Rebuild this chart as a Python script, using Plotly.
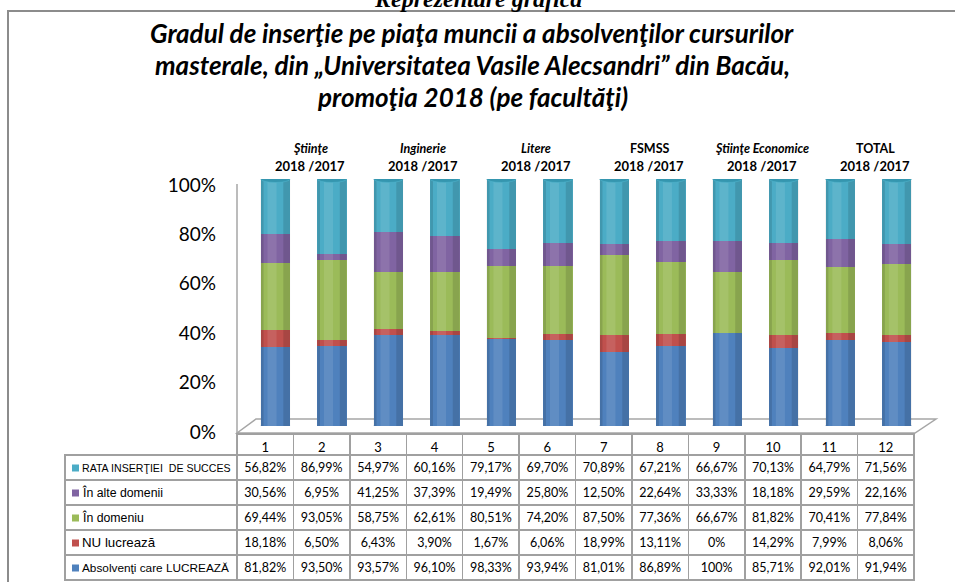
import plotly.graph_objects as go

W, H = 955, 582

categories = ["1", "2", "3", "4", "5", "6", "7", "8", "9", "10", "11", "12"]
faculties = ["<i>Ştiinţe</i>", "<i>Inginerie</i>", "<i>Litere</i>", "FSMSS", "<i>Ştiinţe Economice</i>", "TOTAL"]
period_label = "2018 /2017"

series_names = ["Absolvenţi care LUCREAZĂ", "NU lucrează", "În domeniu", "În alte domenii", "RATA INSERŢIEI  DE SUCCES"]
series_colors = ["#4F81BD", "#C0504D", "#9BBB59", "#8064A2", "#4BACC6"]

absolventi_lucreaza = [81.82, 93.50, 93.57, 96.10, 98.33, 93.94, 81.01, 86.89, 100, 85.71, 92.01, 91.94]
nu_lucreaza = [18.18, 6.50, 6.43, 3.90, 1.67, 6.06, 18.99, 13.11, 0, 14.29, 7.99, 8.06]
in_domeniu = [69.44, 93.05, 58.75, 62.61, 80.51, 74.20, 87.50, 77.36, 66.67, 81.82, 70.41, 77.84]
in_alte_domenii = [30.56, 6.95, 41.25, 37.39, 19.49, 25.80, 12.50, 22.64, 33.33, 18.18, 29.59, 22.16]
rata_insertiei = [56.82, 86.99, 54.97, 60.16, 79.17, 69.70, 70.89, 67.21, 66.67, 70.13, 64.79, 71.56]

series_values = [absolventi_lucreaza, nu_lucreaza, in_domeniu, in_alte_domenii, rata_insertiei]

y_ticks = [0, 20, 40, 60, 80, 100]


def px(x):
    return x / W


def py(y):
    return 1 - y / H


def fmt(v):
    if float(v).is_integer():
        return f"{int(v)}%"
    return f"{v:.2f}".replace(".", ",") + "%"


fig = go.Figure()

for name, vals, col in zip(series_names, series_values, series_colors):
    fig.add_trace(go.Bar(
        x=categories, y=vals, name=name,
        marker=dict(color=col, line=dict(width=0)),
        showlegend=False, hoverinfo="name+y",
    ))

# Data table (top series first, like the reference)
row_order = list(range(len(series_names)))[::-1]
value_cols = [[fmt(series_values[i][c]) for i in row_order] for c in range(len(categories))]
label_sizes = [10.6, 12.3, 12.3, 13.3, 11.8]

TABLE_TOP, HEADER_H, ROW_H, TABLE_L = 434, 21, 25, 65

grid = "#A0A0A0"
clear = "rgba(0,0,0,0)"
fig.add_trace(go.Table(
    domain=dict(x=[px(TABLE_L), px(914)], y=[0, py(TABLE_TOP)]),
    columnwidth=[172] + [56.4] * len(categories),
    header=dict(
        values=[""] + categories,
        height=HEADER_H,
        align="center",
        fill=dict(color=[clear] + ["white"] * len(categories)),
        line=dict(color=[clear] + [grid] * len(categories), width=1.5),
        font=dict(family="Lato", size=13, color="black"),
    ),
    cells=dict(
        values=[[""] * len(row_order)] + value_cols,
        height=ROW_H,
        align="center",
        fill=dict(color="white"),
        line=dict(color=grid, width=1.5),
        font=dict(family="Lato", size=12.5, color="black"),
    ),
))

shapes = []
annotations = []

# legend squares and labels in the table's first column
for r, i in enumerate(row_order):
    yc = TABLE_TOP + HEADER_H + ROW_H * r + ROW_H / 2
    shapes.append(dict(type="rect", xref="paper", yref="paper", x0=px(72), x1=px(79), y0=py(yc + 4), y1=py(yc - 3),
                       fillcolor=series_colors[i], line=dict(width=0)))
    annotations.append(dict(text=series_names[i], xref="paper", yref="paper", x=px(80), y=py(yc),
                            showarrow=False, xanchor="left", yanchor="middle",
                            font=dict(family="Liberation Sans", size=label_sizes[r], color="black")))

# y-axis wall line and floor
shapes.append(dict(type="line", xref="paper", yref="paper", x0=px(237), x1=px(237), y0=py(184), y1=py(433),
                   line=dict(color="#A6A6A6", width=1.5), layer="below"))
shapes.append(dict(type="path", xref="paper", yref="paper",
                   path=f"M {px(237)},{py(433)} L {px(256)},{py(419)} L {px(936)},{py(419)} L {px(915)},{py(433)} Z",
                   line=dict(color="#A6A6A6", width=1.5), fillcolor="white", layer="below"))

# cylinder caps and shading
half = 0.26
for i, c in enumerate(categories):
    shapes.append(dict(type="circle", xref="x", yref="y", x0=i - half, x1=i + half, y0=-1.4, y1=1.4,
                       fillcolor=series_colors[0], line=dict(width=0), layer="below"))
    shapes.append(dict(type="rect", xref="x", yref="y", x0=i - half, x1=i - half + 0.05, y0=0, y1=100,
                       fillcolor="black", opacity=0.12, line=dict(width=0)))
    shapes.append(dict(type="rect", xref="x", yref="y", x0=i - 0.14, x1=i + 0.02, y0=0, y1=100,
                       fillcolor="white", opacity=0.10, line=dict(width=0)))
    shapes.append(dict(type="rect", xref="x", yref="y", x0=i + 0.14, x1=i + half, y0=0, y1=100,
                       fillcolor="black", opacity=0.12, line=dict(width=0)))
    shapes.append(dict(type="circle", xref="x", yref="y", x0=i - half, x1=i + half, y0=100 - 1.4, y1=100 + 1.4,
                       fillcolor="#3596AF", line=dict(width=0.5, color="#55B8D0"), layer="above"))

title_lines = [
    "Gradul de inserţie pe piaţa muncii a absolvenţilor cursurilor",
    "masterale, din „Universitatea Vasile Alecsandri” din Bacău,",
    "promoţia 2018 (pe facultăţi)",
]
for k, line in enumerate(title_lines):
    annotations.append(dict(text=f"<b><i>{line}</i></b>", xref="paper", yref="paper", x=px(472), y=py(33 + 32 * k),
                            showarrow=False, xanchor="center", yanchor="middle",
                            font=dict(family="Lato", size=26, color="black")))

annotations.append(dict(text="<b><i>Reprezentare grafică</i></b>", xref="paper", yref="paper", x=px(478), y=py(-1),
                        showarrow=False, xanchor="center", yanchor="middle",
                        font=dict(family="Liberation Serif", size=24, color="black")))

for k, fac in enumerate(faculties):
    xc = 2 * k + 0.5 + 0.12
    annotations.append(dict(text=f"<b>{fac}</b>", xref="x", yref="paper", x=xc, y=py(148),
                            showarrow=False, xanchor="center", yanchor="middle",
                            font=dict(family="Lato", size=12.5, color="black")))
    annotations.append(dict(text=f"<b>{period_label}</b>", xref="x", yref="paper", x=xc, y=py(166),
                            showarrow=False, xanchor="center", yanchor="middle",
                            font=dict(family="Lato", size=13, color="black")))

# outer frame
shapes.append(dict(type="path", xref="paper", yref="paper",
                   path=f"M {px(8)},{py(H + 5)} L {px(8)},{py(11)} L {px(W + 5)},{py(11)}",
                   line=dict(color="#8C8C8C", width=2)))

fig.update_layout(
    width=W, height=H,
    margin=dict(l=0, r=0, t=0, b=0, autoexpand=False),
    paper_bgcolor="white", plot_bgcolor="rgba(0,0,0,0)",
    barmode="stack", barnorm="percent", bargap=0.48,
    xaxis=dict(domain=[px(237), px(925)], range=[-0.68, 11.5], showticklabels=False, showgrid=False,
               zeroline=False, showline=False, fixedrange=True),
    yaxis=dict(domain=[py(426), py(179)], range=[0, 100], tickmode="array", tickvals=y_ticks,
               ticktext=[f"{t}%" for t in y_ticks], showgrid=False, zeroline=False, showline=False,
               ticklabelshift=6, ticklabelstandoff=20,
               tickfont=dict(family="Lato", size=19, color="black")),
    shapes=shapes, annotations=annotations,
    font=dict(family="Lato"),
)

fig.write_html("out.html", config={"displayModeBar": False},
               post_script="document.body.style.margin='0';document.body.style.overflow='hidden';")
